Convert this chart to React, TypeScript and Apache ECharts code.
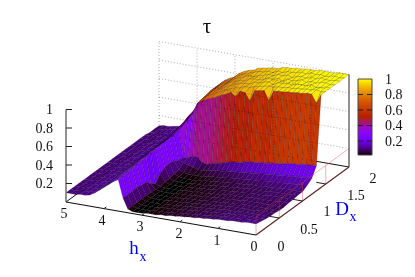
import React, { useEffect, useRef } from "react";
import * as echarts from "echarts";

const hTicks = [0, 1, 2, 3, 4, 5];
const dTicks = [0, 0.5, 1, 1.5, 2];
const zTicks = [0.2, 0.4, 0.6, 0.8, 1];
const hTickLabels = [["0", 254, 246], ["1", 217, 240], ["2", 179, 233], ["3", 140, 226], ["4", 102, 220], ["5", 64, 213]];
const dTickLabels = [["0", 281, 246], ["0.5", 309, 229], ["1", 327, 211], ["1.5", 356, 195], ["2", 373, 178]];

// tau in hundredths. Each row is one Dx value; each column is hx = 0, 0.125, ... 5.
const d00 = [12,12,12,11,11,11,10,10,10,9,9,8,8,7,7,6,6,5,5,4,4,3,3,3,2,2,2,4,15,34,31,27,23,19,15,12,11,11,10,10,10];
const d01 = [11,11,11,11,10,10,10,10,9,9,8,8,7,7,6,6,5,5,4,4,3,3,3,2,2,2,2,4,15,34,31,27,23,19,15,12,11,11,10,10,10];
const d02 = [10,10,10,10,10,10,9,9,9,8,8,7,7,7,6,6,5,5,4,4,3,3,3,2,2,2,2,4,15,35,31,27,23,19,15,12,11,11,10,10,10];
const d03 = [9,9,9,9,9,9,9,8,8,8,8,7,7,6,6,5,5,5,4,4,3,3,3,2,2,2,2,4,16,35,31,28,23,20,15,12,11,11,10,10,10];
const d04 = [9,9,9,9,8,8,8,8,8,8,7,7,7,6,6,5,5,4,4,4,3,3,3,2,2,2,2,4,14,36,32,28,24,20,15,12,11,11,10,10,10];
const d05 = [8,8,8,8,8,8,8,8,8,7,7,7,6,6,6,5,5,4,4,4,3,3,3,2,2,2,2,4,14,36,32,28,24,20,15,12,11,11,10,10,10];
const d06 = [8,8,8,8,8,8,8,8,8,7,7,7,6,6,6,5,5,4,4,4,3,3,3,2,2,2,2,3,8,37,33,29,24,20,16,12,11,11,10,10,10];
const d07 = [9,9,9,8,8,8,8,8,8,7,7,7,7,6,6,5,5,4,4,4,3,3,3,2,2,2,2,3,5,37,33,29,24,20,16,12,11,11,10,10,10];
const d08 = [9,9,9,9,9,9,8,8,8,8,7,7,7,6,6,6,5,5,4,4,3,3,3,2,2,2,2,4,12,37,33,29,25,20,16,12,11,11,10,10,10];
const d09 = [10,10,9,9,9,9,9,8,8,8,8,7,7,7,6,6,5,5,4,4,3,3,3,2,2,2,2,4,15,38,34,30,25,21,16,12,11,11,10,10,10];
const d10 = [10,10,10,10,10,9,9,9,9,8,8,8,7,7,7,6,6,5,5,4,4,3,3,2,2,2,3,5,16,38,34,30,25,21,16,12,11,11,10,10,10];
const d11 = [13,13,12,12,12,11,11,11,10,10,9,9,9,8,8,7,7,6,6,5,5,4,3,3,3,3,4,6,15,38,34,30,25,21,16,12,11,11,10,10,10];
const d12 = [17,17,16,16,16,15,15,14,14,13,13,12,12,11,11,10,10,9,9,8,8,7,6,5,5,7,8,10,12,38,34,30,25,21,16,12,11,11,10,10,10];
const d13 = [27,27,26,26,25,25,24,23,22,22,21,20,20,19,19,18,16,16,15,14,12,11,10,8,9,14,14,12,11,39,34,30,25,21,16,12,11,11,10,10,10];
const d14 = [100,90,99,99,98,98,97,97,96,96,95,84,94,93,92,80,88,89,82,86,83,81,78,76,74,71,68,57,49,42,36,31,25,21,16,12,11,11,11,10,10];
const d15 = [100,99,100,99,99,98,98,97,97,96,96,95,95,94,93,92,90,90,88,87,85,83,80,78,75,73,69,62,51,45,38,33,27,22,16,12,11,11,10,10,10];
const d16 = [100,100,99,98,100,98,98,98,96,97,96,96,93,95,94,92,92,89,89,88,86,84,82,79,76,74,70,64,53,47,40,35,29,23,16,12,11,11,10,10,10];
const d17 = [100,99,100,100,98,99,97,99,97,96,97,94,96,94,95,92,91,91,90,87,87,84,83,80,76,74,71,64,56,50,42,37,28,24,16,12,11,11,10,10,10];
const d18 = [100,100,99,99,100,98,99,97,98,97,95,97,95,96,93,94,92,91,89,89,87,85,83,80,76,74,70,65,58,53,44,39,33,25,17,12,11,11,10,10,9];
const d19 = [100,99,100,99,98,99,98,99,97,98,97,96,96,94,95,92,93,91,91,89,87,86,83,81,76,74,71,66,60,55,46,40,34,26,17,13,12,11,10,10,9];
const d20 = [100,100,100,99,99,99,99,98,98,98,97,97,96,96,95,93,93,92,91,90,87,86,84,81,76,74,71,66,62,57,48,42,36,27,17,13,12,11,10,10,9];
const rows = [d00,d01,d02,d03,d04,d05,d06,d07,d08,d09,d10,d11,d12,d13,d14,d15,d16,d17,d18,d19,d20];

const H_STEP = 0.125;
const D_STEP = 0.1;
const CB_MIN = 0.02;
const SERIF = '"Liberation Serif", "Times New Roman", serif';

// the view: where the floor corners and the z scale land on the page
function project(h: number, d: number, z: number): [number, number] {
  return [256 - 38 * h + 46.5 * d, 235 - 6.6 * h - 34 * d - 92.5 * z];
}

function palette(v: number): string {
  const x = Math.max(0, Math.min(1, v));
  const r = Math.sqrt(x);
  const g = x * x * x;
  const b = Math.max(0, Math.sin(2 * Math.PI * x));
  return `rgb(${Math.round(r * 255)},${Math.round(g * 255)},${Math.round(b * 255)})`;
}

const cells: number[][] = [];
for (let j = rows.length - 2; j >= 0; j--) {
  for (let i = rows[0].length - 2; i >= 0; i--) cells.push([i, j]);
}

function segment(api: any, a: [number, number], b: [number, number], style: any) {
  const p = api.coord(a);
  const q = api.coord(b);
  return { type: "line", shape: { x1: p[0], y1: p[1], x2: q[0], y2: q[1] }, style };
}

function backdrop(_p: any, api: any) {
  const children: any[] = [];
  const solid = { stroke: "#111", lineWidth: 1 };
  children.push(segment(api, project(5, 0, 0), project(5, 2, 0), solid));
  children.push(segment(api, project(5, 2, 0), project(0, 2, 0), solid));
  return { type: "group", children };
}

function surface(_p: any, api: any) {
  const i = api.value(0);
  const j = api.value(1);
  const corners = [[i, j], [i + 1, j], [i + 1, j + 1], [i, j + 1]];
  let sum = 0;
  const points = corners.map(([a, b]) => {
    const z = rows[b][a] / 100;
    sum += z;
    return api.coord(project(a * H_STEP, b * D_STEP, z));
  });
  const avg = sum / 4;
  return {
    type: "polygon",
    shape: { points },
    style: { fill: palette((avg - CB_MIN) / (1 - CB_MIN)), stroke: "rgba(0,0,0,0.3)", lineWidth: 0.6 },
  };
}

function overlay(_p: any, api: any) {
  const children: any[] = [];
  const dotted = { stroke: "rgba(0,0,0,0.32)", lineWidth: 1, lineDash: [1, 2] };
  zTicks.forEach((z) => children.push(segment(api, project(5, 2, z), project(0, 2, z), dotted)));
  hTicks.slice(1).forEach((h) => children.push(segment(api, project(h, 2, 0), project(h, 2, 1), dotted)));
  const pink = { stroke: "rgba(225,60,70,0.4)", lineWidth: 1 };
  children.push(segment(api, project(0, 0, 0.2), project(0, 2, 0.2), pink));
  dTicks.forEach((d) => children.push(segment(api, project(0, d, 0), project(0, d, 0.2), pink)));

  const axis = { stroke: "#777", lineWidth: 1.6 };
  children.push(segment(api, project(5, 0, 0), project(5, 0, 1), axis));
  children.push(segment(api, project(0, 2, 0), project(0, 2, 1), axis));
  const base = { stroke: "#111", lineWidth: 1.1 };
  children.push(segment(api, project(5, 0, 0), project(0, 0, 0), base));
  children.push(segment(api, project(0, 0, 0), project(0, 2, 0), { stroke: "#5a2020", lineWidth: 1.1 }));
  const tick = { stroke: "#222", lineWidth: 1 };
  zTicks.forEach((z) => {
    const p = project(5, 0, z);
    children.push(segment(api, p, [p[0] + 6, p[1]], tick));
  });
  hTicks.slice(1, 5).forEach((h) => children.push(segment(api, project(h, 0, 0), project(h, 0.05, 0), tick)));
  dTicks.slice(1, 4).forEach((d) => children.push(segment(api, project(0, d, 0), project(0.25, d, 0), tick)));
  return { type: "group", children };
}

export default function App() {
  const ref = useRef<HTMLDivElement>(null);
  useEffect(() => {
    document.body.style.margin = "0";
    const chart = echarts.init(ref.current!, null, { renderer: "svg" });
    const text = (t: string, x: number, y: number, size: number, extra: any = {}) => ({
      type: "text",
      x,
      y,
      z: 20,
      silent: true,
      style: { text: t, fontFamily: SERIF, fontSize: size, fill: "#111", align: "center", verticalAlign: "middle", ...extra },
    });
    const cbX = 358;
    const cbW = 14;
    const cbTop = 79;
    const cbH = 76;
    const cbY = (v: number) => cbTop + (1 - (v - CB_MIN) / (1 - CB_MIN)) * cbH;
    const stops: any[] = [];
    for (let k = 0; k <= 40; k++) stops.push({ offset: k / 40, color: palette(1 - k / 40) });
    const elements: any[] = [
      text("τ", 207, 26, 21),
      text("h", 134, 247, 19, { fill: "#0000ff" }),
      text("x", 143, 256, 14, { fill: "#0000ff" }),
      text("D", 342, 208, 19, { fill: "#0000ff" }),
      text("x", 353, 216, 14, { fill: "#0000ff" }),
      ...hTickLabels.map((l) => text(l[0] as string, l[1] as number, l[2] as number, 14)),
      ...dTickLabels.map((l) => text(l[0] as string, l[1] as number, l[2] as number, 14)),
      ...zTicks.map((z) => text(String(z), 53, project(5, 0, z)[1], 14, { align: "right" })),
      {
        type: "rect",
        z: 10,
        silent: true,
        shape: { x: cbX, y: cbTop, width: cbW, height: cbH },
        style: {
          fill: { type: "linear", x: 0, y: 0, x2: 0, y2: 1, colorStops: stops },
          stroke: "#444",
          lineWidth: 1,
        },
      },
      ...zTicks.slice(0, 4).flatMap((z) => [
        { type: "line", z: 11, silent: true, shape: { x1: cbX, y1: cbY(z), x2: cbX + 5, y2: cbY(z) }, style: { stroke: "#222", lineWidth: 1 } },
        { type: "line", z: 11, silent: true, shape: { x1: cbX + cbW - 5, y1: cbY(z), x2: cbX + cbW, y2: cbY(z) }, style: { stroke: "#222", lineWidth: 1 } },
      ]),
      ...zTicks.map((z) => text(String(z), 385, cbY(z), 14, { align: "left" })),
    ];
    chart.setOption({
      animation: false,
      grid: { left: 0, right: 0, top: 0, bottom: 0 },
      xAxis: { type: "value", min: 0, max: 415, show: false },
      yAxis: { type: "value", min: 0, max: 277, inverse: true, show: false },
      graphic: { elements },
      series: [
        { type: "custom", z: 1, silent: true, clip: false, coordinateSystem: "cartesian2d", renderItem: backdrop, data: [[0, 0]] },
        { type: "custom", z: 2, silent: true, clip: false, coordinateSystem: "cartesian2d", renderItem: surface, data: cells },
        { type: "custom", z: 3, silent: true, clip: false, coordinateSystem: "cartesian2d", renderItem: overlay, data: [[0, 0]] },
      ],
    });
    return () => chart.dispose();
  }, []);
  return <div ref={ref} style={{ position: "fixed", left: 0, top: 0, width: 415, height: 277 }} />;
}
